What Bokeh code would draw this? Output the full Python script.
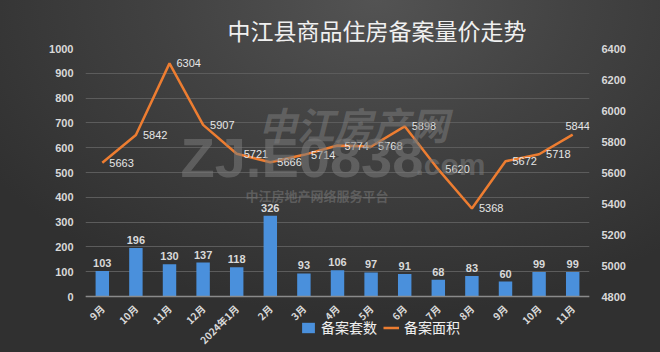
from bokeh.plotting import figure
from bokeh.models import (ColumnDataSource, Range1d, LinearAxis, FixedTicker,
                          Legend, LegendItem, Label)
from bokeh.embed import file_html
from bokeh.resources import INLINE
from bokeh.core.properties import value
import math

months = ["9月", "10月", "11月", "12月", "2024年1月", "2月", "3月", "4月",
          "5月", "6月", "7月", "8月", "9月", "10月", "11月"]
units = [103, 196, 130, 137, 118, 326, 93, 106, 97, 91, 68, 83, 60, 99, 99]
area = [5663, 5842, 6304, 5907, 5721, 5666, 5714, 5774, 5768, 5898, 5620,
        5368, 5672, 5718, 5844]
left_ticks = list(range(0, 1001, 100))
right_ticks = list(range(4800, 6401, 200))

n = len(months)
xs = list(range(n))
a_off = [7] * (n - 1) + [5]
a_yoff = [0] * (n - 1) + [-9]
a_align = ["left"] * (n - 1) + ["center"]
src = ColumnDataSource(dict(x=xs, units=units, area=area,
                            ulab=[str(v) for v in units],
                            alab=[str(v) for v in area],
                            aoff=a_off, ayoff=a_yoff, aalign=a_align))

FONT = "Liberation Sans"
CJK = "Noto Sans CJK SC"
LABEL_COLOR = "#d9d9d9"

# layout: value axis spans 248 px; frame continues 52 px below the zero line
AX_PX = 248.0
BELOW_PX = 52.0
L0, L1 = 0, 1000
R0, R1 = 4800, 6400
l_start = L0 - BELOW_PX * (L1 - L0) / AX_PX
r_start = R0 - BELOW_PX * (R1 - R0) / AX_PX

p = figure(width=660, height=352, output_backend="svg", toolbar_location=None,
           x_range=Range1d(-0.5, n - 0.5), y_range=Range1d(l_start, L1),
           min_border_left=85, min_border_right=71, min_border_top=48,
           min_border_bottom=4)
p.extra_y_ranges = {"right": Range1d(r_start, R1)}

p.background_fill_alpha = 0
p.border_fill_alpha = 0
p.outline_line_color = None
p.styles = {"background-image":
            "radial-gradient(ellipse 70% 90% at 57% 0%, #535353 0%, #424242 45%, #303030 100%)"}

p.title.text = "中江县商品住房备案量价走势"
p.title.text_font = CJK
p.title.text_font_size = "23px"
p.title.text_font_style = "normal"
p.title.text_color = "#f0f0f0"
p.title.align = "left"
p.title.offset = 142
p.title.standoff = 4

p.xgrid.grid_line_color = None
p.ygrid.grid_line_color = "#5c5c5c"
p.ygrid.grid_line_width = 1
p.ygrid.ticker = FixedTicker(ticks=left_ticks)

# watermark (screen units from frame bottom-left)
B = BELOW_PX
wm = [("中江房产网", 173, 146 + B, 38, "bold italic", CJK),
      ("ZJ.E0838", 95, 108 + B, 56, "bold", FONT),
      (".com", 330, 116 + B, 30, "bold", FONT),
      ("中江房地产网络服务平台", 160, 92 + B, 13, "bold", CJK)]
for t, x, y, s, st, f in wm:
    p.add_layout(Label(x=x, y=y, x_units="screen", y_units="screen", text=t,
                       text_font=f, text_font_size=f"{s}px",
                       text_font_style=st, text_color="#7a7a7a",
                       text_alpha=0.55))

bars = p.vbar(x="x", top="units", bottom=0, width=0.4, source=src,
              fill_color="#4a90dc", line_color=None)
line = p.line(x="x", y="area", source=src, y_range_name="right",
              line_color="#ED7D31", line_width=2.5)

p.text(x="x", y="units", text="ulab", source=src, text_align="center",
       text_baseline="bottom", y_offset=-4, text_font=value(FONT),
       text_font_style="bold", text_font_size="11px", text_color=LABEL_COLOR)
p.text(x="x", y="area", text="alab", source=src, y_range_name="right",
       text_align="aalign", text_baseline="middle", x_offset="aoff",
       y_offset="ayoff", text_font=value(FONT), text_font_size="11px",
       text_color="#e6e6e6")

ax = p.xaxis[0]
ax.fixed_location = 0
ax.ticker = FixedTicker(ticks=xs)
ax.major_label_overrides = {i: m for i, m in enumerate(months)}
ax.major_label_orientation = math.pi / 4
ax.major_label_text_font = CJK
ax.major_label_text_font_style = "bold"
ax.major_label_text_font_size = "10px"
ax.major_label_text_color = LABEL_COLOR
ax.axis_line_color = "#8a8a8a"
ax.axis_line_width = 1.5
ax.major_tick_line_color = None
ax.minor_tick_line_color = None
ax.major_label_standoff = 4

ay = p.yaxis[0]
ay.ticker = FixedTicker(ticks=left_ticks)
ay.axis_line_color = None
ay.major_tick_line_color = None
ay.minor_tick_line_color = None
ay.major_label_text_font = FONT
ay.major_label_text_font_style = "bold"
ay.major_label_text_font_size = "11px"
ay.major_label_text_color = LABEL_COLOR
ay.major_label_standoff = 6

ry = LinearAxis(y_range_name="right", ticker=FixedTicker(ticks=right_ticks))
ry.axis_line_color = None
ry.major_tick_line_color = None
ry.minor_tick_line_color = None
ry.major_label_text_font = FONT
ry.major_label_text_font_style = "bold"
ry.major_label_text_font_size = "11px"
ry.major_label_text_color = LABEL_COLOR
ry.major_label_standoff = 6
p.add_layout(ry, "right")

legend = Legend(items=[LegendItem(label="备案套数", renderers=[bars]),
                       LegendItem(label="备案面积", renderers=[line])],
                orientation="horizontal", location=(215, 11),
                background_fill_alpha=0, border_line_color=None,
                label_text_font=CJK, label_text_font_size="14px",
                label_text_color="#f0f0f0", glyph_width=16, glyph_height=13,
                label_height=13, spacing=6, padding=0, margin=0,
                label_standoff=5)
p.add_layout(legend, "center")

open("out.html", "w").write(file_html(p, INLINE))
